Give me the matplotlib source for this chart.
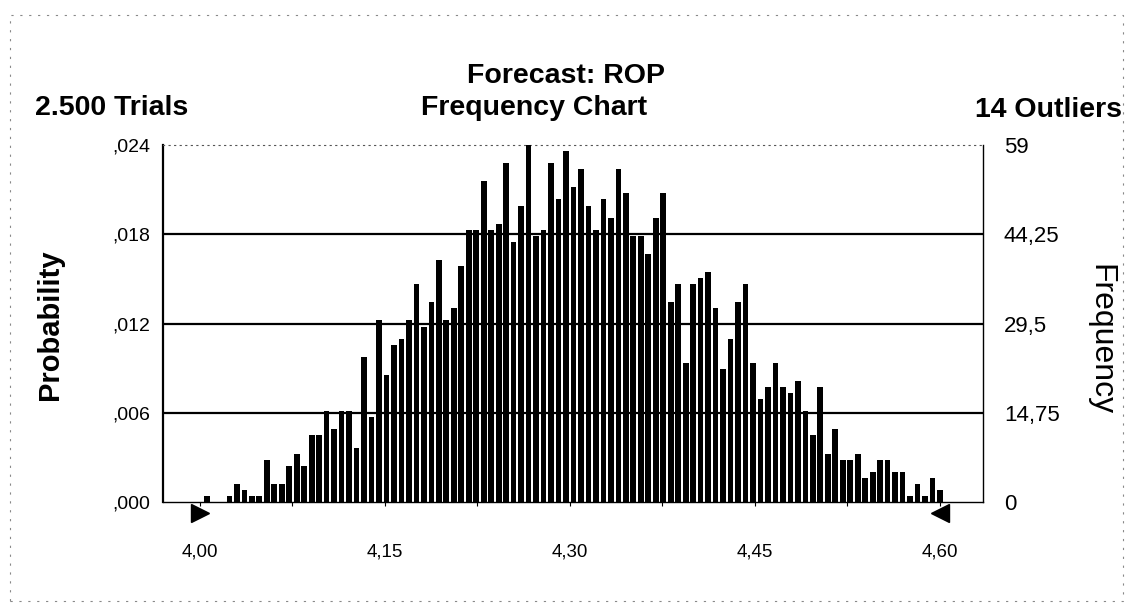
import matplotlib
matplotlib.use("Agg")
import matplotlib.pyplot as plt
import numpy as np
from matplotlib.patches import Rectangle
from matplotlib.transforms import blended_transform_factory

# ---- data ----
counts = [0, 1, 0, 0, 1, 3, 2, 1, 1, 7,
          3, 3, 6, 8, 6, 11, 11, 15, 12, 15,
          15, 9, 24, 14, 30, 21, 26, 27, 30, 36,
          29, 33, 40, 30, 32, 39, 45, 45, 53, 45,
          46, 56, 43, 49, 59, 44, 45, 56, 50, 58,
          52, 55, 49, 45, 50, 47, 55, 51, 44, 44,
          41, 47, 51, 33, 36, 23, 36, 37, 38, 32,
          22, 27, 33, 36, 23, 17, 19, 23, 19, 18,
          20, 15, 11, 19, 8, 12, 7, 7, 8, 4,
          5, 7, 7, 5, 5, 1, 3, 1, 4, 2]
x_start = 4.00
x_end = 4.60
freq_ticks = [0, 14.75, 29.5, 44.25, 59]
freq_labels = ["0", "14,75", "29,5", "44,25", "59"]
prob_labels = [",000", ",006", ",012", ",018", ",024"]
x_ticks = [4.00, 4.15, 4.30, 4.45, 4.60]
x_labels = ["4,00", "4,15", "4,30", "4,45", "4,60"]
x_minor = [4.075, 4.225, 4.375, 4.525]
title = "Forecast: ROP"
subtitle = "Frequency Chart"
trials_text = "2.500 Trials"
outliers_text = "14 Outliers"
ylabel_left = "Probability"
ylabel_right = "Frequency"

W, H = 1133, 611
plain = ["Liberation Sans", "DejaVu Sans"]

fig = plt.figure(figsize=(W / 100, H / 100), dpi=100)
fig.patch.set_facecolor("white")

L, R, T, B = 163, 983, 145, 502
ax = fig.add_axes([L / W, 1 - B / H, (R - L) / W, (B - T) / H])

centers = np.linspace(x_start, x_end, len(counts))
step = centers[1] - centers[0]
ax.bar(centers, counts, width=step * 0.76, color="black", zorder=3)

ax.set_xlim(x_start - 4.88 * step, x_end + 5.75 * step)
ax.set_ylim(0, 59)

for t in freq_ticks[1:4]:
    ax.axhline(t, color="black", lw=1.6, zorder=2)

# spines
ax.spines["left"].set_linewidth(1.6)
ax.spines["right"].set_linewidth(1.0)
ax.spines["bottom"].set_linewidth(1.0)
ax.spines["top"].set_linestyle((0, (1, 4)))
ax.spines["top"].set_color("#555555")
ax.spines["top"].set_linewidth(0.8)

# x ticks
ax.set_xticks(x_ticks)
ax.set_xticklabels(x_labels, fontfamily=plain, fontsize=13.5)
ax.set_xticks(x_minor, minor=True)
ax.tick_params(axis="x", which="both", direction="out", length=3, width=0.8, pad=27)

# left y ticks (probability)
ax.set_yticks(freq_ticks)
ax.set_yticklabels(prob_labels, fontfamily=plain, fontsize=14)
ax.tick_params(axis="y", length=0, pad=9)

# right y ticks (frequency)
ax2 = ax.twinx()
ax2.set_ylim(0, 59)
ax2.set_yticks(freq_ticks)
ax2.set_yticklabels(freq_labels, fontfamily=plain, fontsize=16)
ax2.tick_params(axis="y", length=0, pad=15)
for s in ax2.spines.values():
    s.set_visible(False)

# end markers below the axis
trans = blended_transform_factory(ax.transData, ax.transAxes)
ax.plot([x_start], [-0.03], marker=">", color="black", markersize=13,
        transform=trans, clip_on=False, zorder=5)
ax.plot([x_end], [-0.03], marker="<", color="black", markersize=13,
        transform=trans, clip_on=False, zorder=5)

# titles
fs_t = 20.5
fig.text(566 / W, 1 - 76 / H, title, ha="center", va="center",
         fontsize=fs_t, fontweight="bold", fontfamily=plain)
fig.text(35 / W, 1 - 108 / H, trials_text, ha="left", va="center",
         fontsize=fs_t, fontweight="bold", fontfamily=plain)
fig.text(534 / W, 1 - 108 / H, subtitle, ha="center", va="center",
         fontsize=fs_t, fontweight="bold", fontfamily=plain)
fig.text(1122 / W, 1 - 110 / H, outliers_text, ha="right", va="center",
         fontsize=fs_t, fontweight="bold", fontfamily=plain)
fig.text(50 / W, 1 - 325 / H, ylabel_left, ha="center", va="center",
         rotation=90, fontsize=21, fontweight="bold", fontfamily=plain)
fig.text(1100 / W, 1 - 340 / H, ylabel_right, ha="center", va="center",
         rotation=270, fontsize=23, fontfamily=plain)

# faint outer frame of the scanned figure
fig.add_artist(Rectangle((10 / W, 10 / H), (W - 20) / W, (H - 25) / H,
                         transform=fig.transFigure, fill=False,
                         edgecolor="#888888", lw=0.8, ls=(0, (2, 6))))

fig.savefig("out.png", dpi=100, facecolor="white")
